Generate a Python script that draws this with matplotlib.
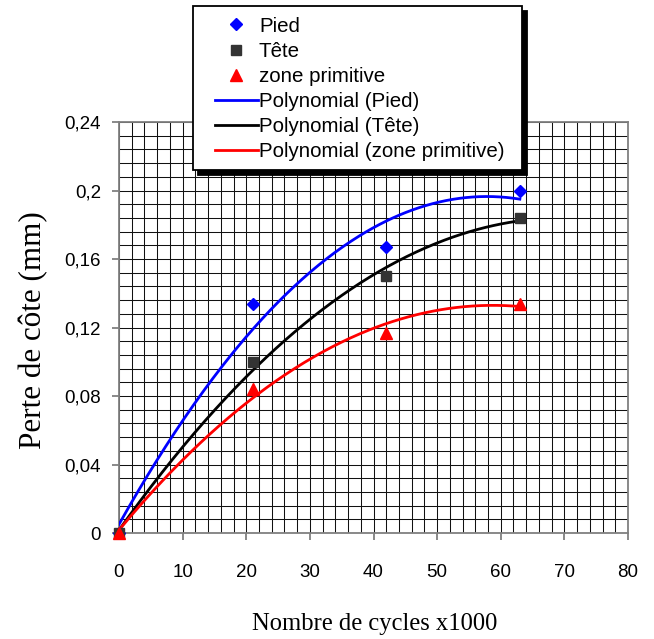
import numpy as np
import matplotlib
matplotlib.use("Agg")
import matplotlib.pyplot as plt
from matplotlib.patches import Rectangle
from matplotlib.lines import Line2D
from matplotlib.legend_handler import HandlerLine2D
from matplotlib.ticker import MultipleLocator, FuncFormatter

# Measured wear (mm) against number of cycles (x1000)
cycles = [0, 21, 42, 63]
pied = [0.0, 0.134, 0.167, 0.200]
tete = [0.0, 0.100, 0.150, 0.184]
zone_primitive = [0.0, 0.084, 0.117, 0.134]

x_ticks = [0, 10, 20, 30, 40, 50, 60, 70, 80]
y_ticks = [0, 0.04, 0.08, 0.12, 0.16, 0.20, 0.24]

# name, values, marker colour, line colour, marker, marker size
series = [
    ("Pied", pied, "#0000ff", "#0000ff", "D", 6),
    ("Tête", tete, "#333333", "#000000", "s", 6.5),
    ("zone primitive", zone_primitive, "#ff0000", "#ff0000", "^", 8),
]

W, H = 654, 639
fig = plt.figure(figsize=(W / 100, H / 100), dpi=100)
left, right, top, bottom = 119, 628, 122, 533
ax = fig.add_axes([left / W, 1 - bottom / H, (right - left) / W, (bottom - top) / H])

ax.set_xlim(0, 80)
ax.set_ylim(0, 0.24)
ax.xaxis.set_minor_locator(MultipleLocator(2))
ax.yaxis.set_minor_locator(MultipleLocator(0.008))
ax.set_xticks(x_ticks)
ax.set_yticks(y_ticks)
ax.grid(which="both", color="#111111", linewidth=0.75)
ax.set_axisbelow(True)

for sp in ax.spines.values():
    sp.set_color("#808080")
    sp.set_linewidth(1.3)
ax.tick_params(which="major", direction="out", length=5, color="#808080",
               labelsize=13.5, width=1.3)
ax.tick_params(which="minor", length=0)
ax.tick_params(axis="x", pad=17)
ax.tick_params(axis="y", pad=8)

fmt = FuncFormatter(lambda v, p: "0" if abs(v) < 1e-12 else f"{v:.2f}".rstrip("0").replace(".", ","))
ax.yaxis.set_major_formatter(fmt)
for lbl in ax.get_xticklabels() + ax.get_yticklabels():
    lbl.set_fontfamily("Liberation Sans")

handles_pts = []
handles_fit = []
xs = np.linspace(0, 63, 300)
for name, vals, mcolor, lcolor, marker, ms in series:
    h = ax.plot(cycles, vals, linestyle="none", marker=marker, color=mcolor,
                markersize=ms, zorder=4, label=name, clip_on=False)[0]
    handles_pts.append(h)
for name, vals, mcolor, lcolor, marker, ms in series:
    coef = np.polyfit(cycles, vals, 2)
    h = ax.plot(xs, np.polyval(coef, xs), color=lcolor, linewidth=2.0, zorder=3,
                label=f"Polynomial ({name})")[0]
    handles_fit.append(h)

fig.text(374.5 / W, 1 - 630 / H, "Nombre de cycles x1000", family="Liberation Serif",
         fontsize=17.7, ha="center", va="baseline")
fig.text(41 / W, 1 - 330 / H, "Perte de côte (mm)", family="Liberation Serif",
         fontsize=22.4, ha="center", va="baseline", rotation=90, rotation_mode="anchor")

# Legend content, with a hand-drawn frame and drop shadow behind it
fs = 14.75
handles = handles_pts + handles_fit
leg = fig.legend(handles, [h.get_label() for h in handles],
                 loc="center left", bbox_to_anchor=(212 / W, 1 - 89 / H),
                 frameon=False, prop={"family": "Liberation Sans", "size": fs},
                 handlelength=2.24, handletextpad=0.05, labelspacing=0.30,
                 borderpad=0, borderaxespad=0, numpoints=1,
                 handler_map={Line2D: HandlerLine2D(xpad=0.15)})
leg.set_zorder(10)

box = (193, 6, 522, 170)
shadow = Rectangle(((box[0] + 5) / W, 1 - (box[3] + 5) / H), (box[2] - box[0]) / W,
                   (box[3] - box[1]) / H, transform=fig.transFigure,
                   facecolor="black", edgecolor="black", linewidth=1.3, zorder=8)
frame = Rectangle((box[0] / W, 1 - box[3] / H), (box[2] - box[0]) / W,
                  (box[3] - box[1]) / H, transform=fig.transFigure,
                  facecolor="white", edgecolor="black", linewidth=1.3, zorder=9)
fig.add_artist(shadow)
fig.add_artist(frame)

fig.savefig("out.png", dpi=100)
